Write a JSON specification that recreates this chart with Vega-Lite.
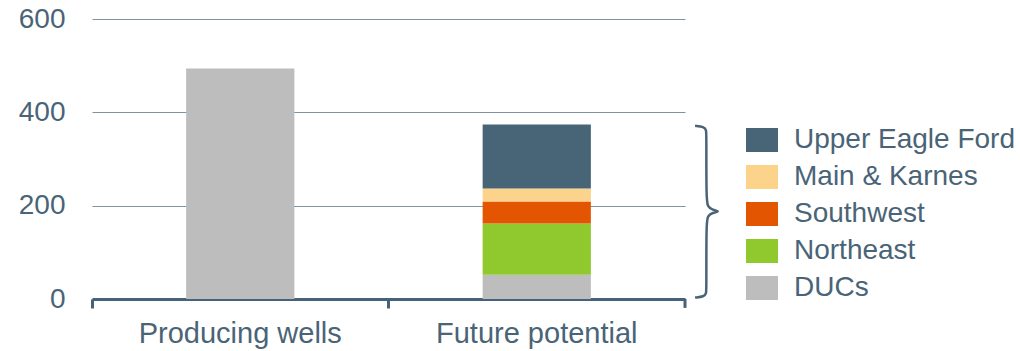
{
  "$schema": "https://vega.github.io/schema/vega-lite/v6.json",
  "autosize": "none",
  "width": 593,
  "height": 280,
  "padding": {"left": 92, "top": 19, "right": 335, "bottom": 52},
  "background": "white",
  "config": {
    "font": "Liberation Sans",
    "view": {"stroke": null}
  },
  "layer": [
    {
      "data": {"values": [
        {"category": "Producing wells", "series": "Producing wells", "value": 494, "k": 1},
        {"category": "Future potential", "series": "DUCs", "value": 52, "k": 1},
        {"category": "Future potential", "series": "Northeast", "value": 110, "k": 2},
        {"category": "Future potential", "series": "Southwest", "value": 47, "k": 3},
        {"category": "Future potential", "series": "Main & Karnes", "value": 28, "k": 4},
        {"category": "Future potential", "series": "Upper Eagle Ford", "value": 137, "k": 5}
      ]},
      "mark": {"type": "bar", "width": {"band": 0.365}},
      "encoding": {
        "x": {
          "field": "category", "type": "nominal",
          "sort": ["Producing wells", "Future potential"],
          "scale": {"paddingInner": 0, "paddingOuter": 0},
          "axis": {
            "title": null, "labelAngle": 0, "bandPosition": 0,
            "domainColor": "#46627a", "domainWidth": 3,
            "tickColor": "#46627a", "tickWidth": 3, "tickSize": 9,
            "labelFontSize": 29, "labelColor": "#4a6477", "labelPadding": 11,
            "labelFont": "Liberation Sans", "labelLimit": 400
          }
        },
        "y": {
          "field": "value", "type": "quantitative", "stack": "zero",
          "scale": {"domain": [0, 600], "nice": false},
          "axis": {
            "title": null, "values": [0, 200, 400, 600], "domain": false, "ticks": false,
            "gridColor": "#7d93a3", "gridWidth": 1,
            "labelFontSize": 28, "labelColor": "#4a6477", "labelPadding": 27,
            "labelFont": "Liberation Sans"
          }
        },
        "color": {
          "field": "series", "type": "nominal",
          "scale": {
            "domain": ["Upper Eagle Ford", "Main & Karnes", "Southwest", "Northeast", "DUCs", "Producing wells"],
            "range": ["#486577", "#fbd38b", "#e35500", "#8fc92e", "#bdbdbd", "#bdbdbd"]
          },
          "legend": {
            "title": null,
            "values": ["Upper Eagle Ford", "Main & Karnes", "Southwest", "Northeast", "DUCs"],
            "orient": "none", "legendX": 654, "legendY": 105,
            "symbolType": "M-1,-0.75H1V0.75H-1Z", "symbolSize": 1024, "symbolStrokeWidth": 0,
            "symbolOpacity": 1,
            "labelFontSize": 28, "labelColor": "#4a6477", "labelOffset": 16,
            "labelFont": "Liberation Sans",
            "rowPadding": 7, "labelLimit": 400
          }
        },
        "order": {"field": "k", "type": "quantitative"}
      }
    },
    {
      "data": {"values": [
        {"bx": 101.7, "value": 371, "i": 1},
        {"bx": 103.2, "value": 369, "i": 2},
        {"bx": 103.6, "value": 362, "i": 3},
        {"bx": 103.6, "value": 352, "i": 4},
        {"bx": 103.6, "value": 214, "i": 5},
        {"bx": 103.8, "value": 198, "i": 6},
        {"bx": 104.6, "value": 191, "i": 7},
        {"bx": 106.0, "value": 188, "i": 8},
        {"bx": 104.6, "value": 185, "i": 9},
        {"bx": 103.8, "value": 178, "i": 10},
        {"bx": 103.6, "value": 162, "i": 11},
        {"bx": 103.6, "value": 22, "i": 12},
        {"bx": 103.6, "value": 12, "i": 13},
        {"bx": 103.2, "value": 5, "i": 14},
        {"bx": 101.7, "value": 3, "i": 15}
      ]},
      "mark": {"type": "line", "interpolate": "basis", "color": "#4a6477", "strokeWidth": 2.5, "clip": false},
      "encoding": {
        "x": {"field": "bx", "type": "quantitative", "scale": {"domain": [0, 100], "nice": false, "zero": false}, "axis": null},
        "y": {"field": "value", "type": "quantitative"},
        "order": {"field": "i", "type": "quantitative"}
      }
    },
    {
      "data": {"values": [{"edge": 100}]},
      "mark": {"type": "rule", "color": "#46627a", "strokeWidth": 3},
      "encoding": {
        "x": {"field": "edge", "type": "quantitative", "scale": {"domain": [0, 100], "nice": false, "zero": false}, "axis": null},
        "y": {"datum": 0},
        "y2": {"datum": -19}
      }
    }
  ],
  "resolve": {"scale": {"x": "independent"}}
}
